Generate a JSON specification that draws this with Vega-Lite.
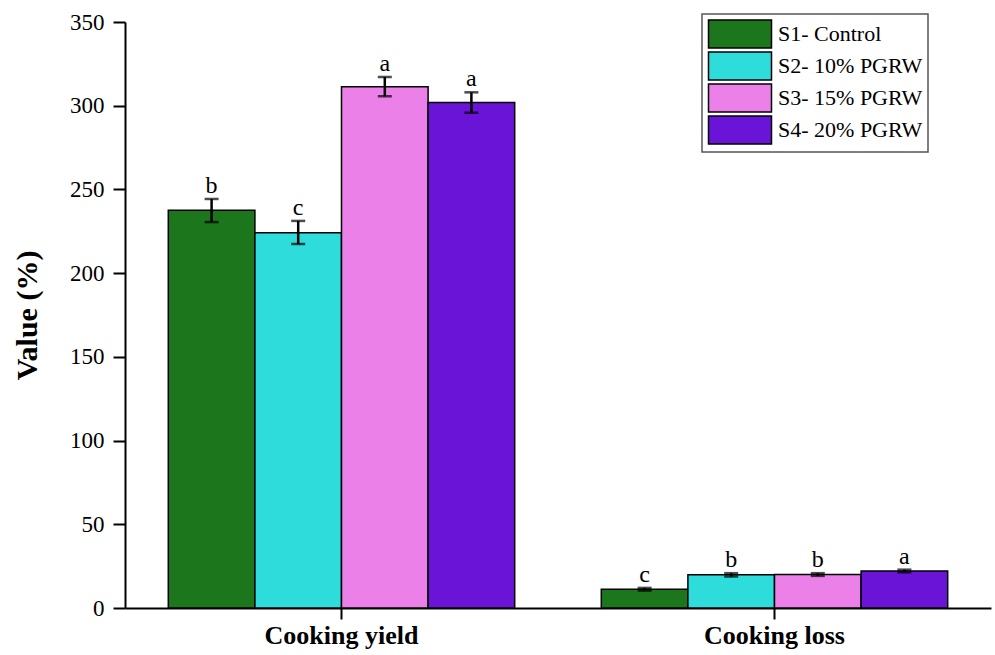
{
  "$schema": "https://vega.github.io/schema/vega-lite/v6.json",
  "width": 866,
  "height": 586,
  "autosize": "none",
  "padding": {"left": 125, "top": 22, "right": 4, "bottom": 47},
  "background": "white",
  "config": {
    "view": {"stroke": null},
    "font": "Liberation Serif",
    "axis": {"labelFont": "Liberation Serif", "titleFont": "Liberation Serif", "domainColor": "black", "tickColor": "black", "labelColor": "black", "titleColor": "black", "grid": false, "domainWidth": 2, "tickWidth": 2},
    "legend": {
      "orient": "none", "legendX": 577, "legendY": -8,
      "strokeColor": "#555", "strokeWidth": 1.5, "fillColor": "white", "padding": 5,
      "symbolType": "M-2.25,-1L2.25,-1L2.25,1L-2.25,1Z",
      "symbolSize": 784, "symbolOffset": 18, "symbolStrokeColor": "black", "symbolStrokeWidth": 1.5, "symbolOpacity": 1,
      "labelFontSize": 22, "labelFont": "Liberation Serif", "labelColor": "black", "labelOffset": 23, "rowPadding": -2
    }
  },
  "data": {"values": [
    {"group": "Cooking yield", "series": "S1- Control", "value": 237.5, "lo": 230.5, "hi": 244.3, "sig": "b"},
    {"group": "Cooking yield", "series": "S2- 10% PGRW", "value": 224.2, "lo": 217.4, "hi": 231.2, "sig": "c"},
    {"group": "Cooking yield", "series": "S3- 15% PGRW", "value": 311.4, "lo": 305.6, "hi": 317.2, "sig": "a"},
    {"group": "Cooking yield", "series": "S4- 20% PGRW", "value": 301.9, "lo": 295.8, "hi": 308.0, "sig": "a"},
    {"group": "Cooking loss", "series": "S1- Control", "value": 11.2, "lo": 10.4, "hi": 12.0, "sig": "c"},
    {"group": "Cooking loss", "series": "S2- 10% PGRW", "value": 19.8, "lo": 18.8, "hi": 20.8, "sig": "b"},
    {"group": "Cooking loss", "series": "S3- 15% PGRW", "value": 20.0, "lo": 19.2, "hi": 20.8, "sig": "b"},
    {"group": "Cooking loss", "series": "S4- 20% PGRW", "value": 22.1, "lo": 21.3, "hi": 22.9, "sig": "a"}
  ]},
  "encoding": {
    "x": {"field": "group", "type": "nominal", "sort": ["Cooking yield", "Cooking loss"],
      "scale": {"paddingInner": 0.2, "paddingOuter": 0.1},
      "axis": {"title": null, "labelAngle": 0, "labelFontSize": 26, "labelFontWeight": "bold", "tickSize": 11, "labelPadding": 3}},
    "xOffset": {"field": "series", "type": "nominal", "sort": ["S1- Control", "S2- 10% PGRW", "S3- 15% PGRW", "S4- 20% PGRW"], "scale": {"paddingInner": 0, "paddingOuter": 0}}
  },
  "layer": [
    {
      "mark": {"type": "bar", "stroke": "black", "strokeWidth": 1.5, "opacity": 1},
      "encoding": {
        "y": {"field": "value", "type": "quantitative",
          "scale": {"domain": [0, 350], "nice": false},
          "axis": {"title": "Value (%)", "values": [0, 50, 100, 150, 200, 250, 300, 350], "labelFontSize": 23, "titleFontSize": 30, "titleFontWeight": "bold", "tickSize": 12, "labelPadding": 9, "titlePadding": 27}},
        "color": {"field": "series", "type": "nominal",
          "scale": {"domain": ["S1- Control", "S2- 10% PGRW", "S3- 15% PGRW", "S4- 20% PGRW"], "range": ["#1c761c", "#2fdcdc", "#ea80e8", "#6a14d8"]},
          "legend": {"title": null}}
      }
    },
    {
      "mark": {"type": "rule", "color": "black", "strokeWidth": 2.5},
      "encoding": {"y": {"field": "lo", "type": "quantitative"}, "y2": {"field": "hi"}}
    },
    {
      "mark": {"type": "tick", "color": "black", "size": 14, "thickness": 2.5, "orient": "horizontal"},
      "encoding": {"y": {"field": "hi", "type": "quantitative"}}
    },
    {
      "mark": {"type": "tick", "color": "black", "size": 14, "thickness": 2.5, "orient": "horizontal"},
      "encoding": {"y": {"field": "lo", "type": "quantitative"}}
    },
    {
      "mark": {"type": "text", "baseline": "alphabetic", "dy": -6, "fontSize": 24, "color": "black", "font": "Liberation Serif"},
      "encoding": {"y": {"field": "hi", "type": "quantitative"}, "text": {"field": "sig"}}
    }
  ]
}
